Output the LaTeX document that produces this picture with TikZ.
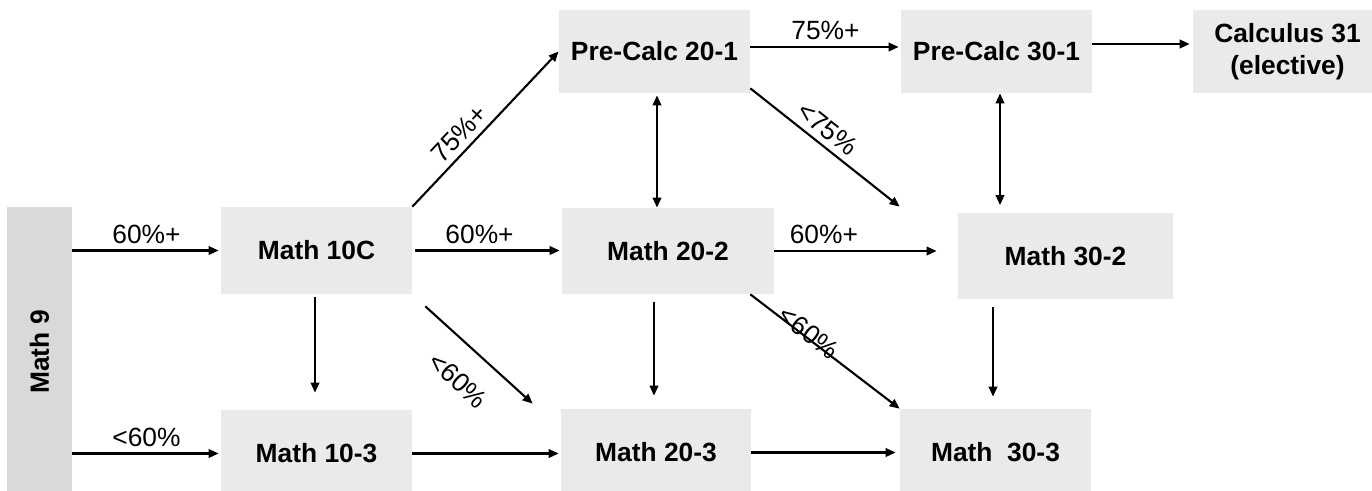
\documentclass[tikz,border=0pt]{standalone}
\usepackage{fontspec}
\setmainfont{Liberation Sans}
\usetikzlibrary{arrows.meta,positioning,calc}
\definecolor{boxfill}{HTML}{EAEAEA}
\definecolor{ninefill}{HTML}{D9D9D9}
\tikzset{
  course/.style={fill=boxfill,inner sep=2pt,align=center,font=\fontsize{15}{18}\selectfont\bfseries,minimum width=3.82cm,minimum height=1.74cm},
  topcourse/.style={course,minimum height=1.66cm},
  ninebox/.style={course,fill=ninefill,minimum width=1.3cm,minimum height=5.8cm},
  ar/.style={-{Triangle[length=0.2cm,width=0.17cm]},line width=1.2pt},
  arr/.style={{Triangle[length=0.2cm,width=0.17cm]}-{Triangle[length=0.2cm,width=0.17cm]},line width=1.2pt},
  pct/.style={font=\fontsize{15}{18}\selectfont},
}

\begin{document}
\begin{tikzpicture}
\useasboundingbox (0,0) rectangle (27.44,9.8);
\clip (0,0) rectangle (27.44,9.8);
% courses
\node[ninebox] (m9) at (0.79,2.76) {\rotatebox{90}{Math 9}};
\node[course] (m10c) at (6.33,4.79) {Math 10C};
\node[course] (m103) at (6.33,0.73) {Math 10-3};
\node[topcourse] (pc201) at (13.09,8.77) {Pre-Calc 20-1};
\node[course,minimum width=4.24cm,minimum height=1.72cm] (m202) at (13.36,4.78) {Math 20-2};
\node[course,minimum width=3.8cm] (m203) at (13.12,0.75) {Math 20-3};
\node[topcourse] (pc301) at (19.93,8.77) {Pre-Calc 30-1};
\node[course,minimum width=4.3cm,minimum height=1.72cm] (m302) at (21.31,4.68) {Math 30-2};
\node[course] (m303) at (19.91,0.75) {Math~~30-3};
\node[topcourse,minimum width=3.78cm] (calc) at (25.75,8.77) {Calculus 31\\(elective)};
% from grade 9
\draw[ar,shorten >=0.04cm] (m9.east |- m10c) -- node[pct,above]{60\%+} (m10c);
\draw[ar,shorten >=0.04cm] (m9.east |- m103) -- node[pct,above]{<60\%} (m103);
% grade 10
\draw[ar,shorten <=0.06cm,shorten >=0.34cm] ([xshift=-0.03cm]m10c.south) -- ([xshift=-0.03cm]m103.north);
\draw[ar] (m10c.north east) -- node[pct,sloped,above,pos=0.4]{75\%+} (pc201.west);
\draw[ar,shorten <=0.06cm,shorten >=0.04cm] (m10c.east) -- node[pct,above,pos=0.45]{60\%+} (m10c.east -| m202.west);
\draw[ar] ([shift={(0.26,-0.24)}]m10c.south east) -- node[pct,sloped,below=0.33cm,pos=0.51]{<60\%} ([shift={(-0.56,0.1)}]m203.north west);
\draw[ar,shorten >=0.04cm] (m103.east) -- (m103.east -| m203.west);
% grade 11
\draw[arr,shorten <=0.04cm] ([xshift=0.05cm]pc201.south) -- ([xshift=0.05cm]pc201.south |- m202.north);
\draw[ar,shorten >=0.04cm] ([yshift=0.09cm]pc201.east) -- node[pct,above]{75\%+} ([yshift=0.09cm]pc201.east -| pc301.west);
\draw[ar] ([yshift=0.1cm]pc201.south east) -- node[pct,sloped,above,pos=0.45]{<75\%} ([shift={(-1.16,0.12)}]m302.north west);
\draw[ar,shorten >=0.42cm] (m202.east) -- node[pct,above,pos=0.27]{60\%+} (m202.east -| m302.west);
\draw[ar,shorten <=0.16cm,shorten >=0.26cm] ([xshift=-0.04cm]m203.north |- m202.south) -- ([xshift=-0.04cm]m203.north);
\draw[ar] ([xshift=-0.48cm]m202.south east) -- node[pct,sloped,above=-0.22cm,pos=0.37]{<60\%} (m303.north west);
\draw[ar,shorten >=0.08cm] (m203.east) -- (m203.east -| m303.west);
% grade 12
\draw[arr,shorten >=0.15cm] ([xshift=0.07cm]pc301.south) -- ([xshift=0.07cm]pc301.south |- m302.north);
\draw[ar,shorten <=0.16cm,shorten >=0.24cm] ([xshift=-0.05cm]m303.north |- m302.south) -- ([xshift=-0.05cm]m303.north);
\draw[ar,shorten >=0.06cm] ([yshift=0.15cm]pc301.east) -- ([yshift=0.15cm]pc301.east -| calc.west);
\end{tikzpicture}
\end{document}
